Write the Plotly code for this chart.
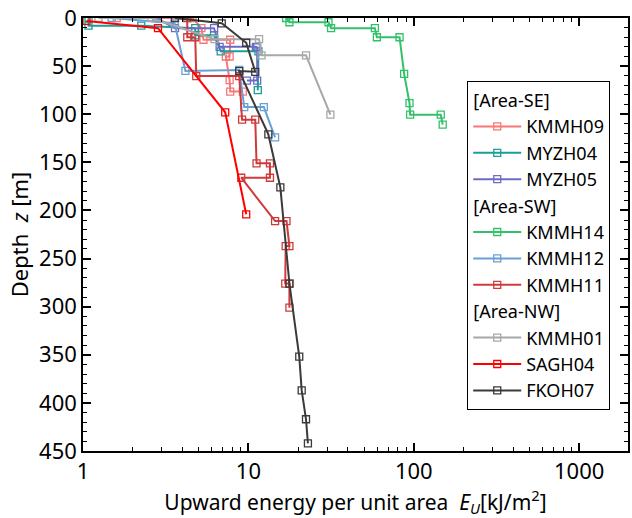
import plotly.graph_objects as go

# ---- data (E_U [kJ/m^2], depth [m]) ----
KMMH09_E = [1.6, 4.6, 5.2, 5.35, 7.76, 7.7, 7.3, 7.7, 7.76, 9.25]
KMMH09_Z = [0, 0, 10.6, 22.6, 22.6, 40, 40, 64.5, 76.5, 76.5]

MYZH04_E = [1.08, 1.08, 2.25, 4.77, 4.77, 6.2, 6.8, 11.5, 11.4]
MYZH04_Z = [0, 8, 8, 10.6, 18, 18, 34.6, 34.6, 75]

MYZH05_E = [2.78, 3.6, 6.2, 6.7, 11.1, 11.3, 11.3, 9.8]
MYZH05_Z = [0, 10.6, 10.6, 30, 30, 30.5, 65, 65]

KMMH14_E = [16.9, 17.7, 30.5, 31.6, 58.2, 59.8, 82, 87.4, 94.2, 95, 145.5, 149.5]
KMMH14_Z = [0, 4.4, 4.4, 10.6, 10.6, 20, 20, 58, 88.5, 100.5, 100.5, 110.8]

KMMH12_E = [1.49, 3.58, 4.16, 8.8, 9.44, 12.4, 14.5]
KMMH12_Z = [0, 5.5, 55, 54, 92.6, 92.6, 124]

KMMH11_E = [4.27, 4.27, 4.77, 4.84, 8.8, 9.16, 11.0, 11.2, 13.5, 13.5, 9.05, 14.5, 17.0, 17.7, 16.8, 16.7, 17.7, 17.7]
KMMH11_Z = [0, 20, 20, 60.4, 60.4, 105.7, 105.7, 151, 151, 166, 166, 211, 211, 237, 237, 276, 276, 301]

KMMH01_E = [1.24, 2.59, 6.24, 11.6, 12.0, 22.3, 31.3]
KMMH01_Z = [0, 0, 22, 22, 38.8, 38.8, 100.5]

SAGH04_E = [1.05, 2.84, 7.24, 9.7]
SAGH04_Z = [3, 10.6, 98, 204]

FKOH07_E = [3.6, 6.9, 9.7, 11.0, 8.8, 13.2, 15.6, 17.7, 20.3, 21.0, 22.3, 22.9]
FKOH07_Z = [0, 5.5, 25.7, 55.9, 55.2, 121, 176, 276, 352, 387, 417, 442]

series = [
    ("KMMH09", KMMH09_E, KMMH09_Z, "#f87777", "SE", "[Area-SE]"),
    ("MYZH04", MYZH04_E, MYZH04_Z, "#1a9e9a", "SE", "[Area-SE]"),
    ("MYZH05", MYZH05_E, MYZH05_Z, "#6c6cc8", "SE", "[Area-SE]"),
    ("KMMH14", KMMH14_E, KMMH14_Z, "#33c06a", "SW", "[Area-SW]"),
    ("KMMH12", KMMH12_E, KMMH12_Z, "#6a9fd6", "SW", "[Area-SW]"),
    ("KMMH11", KMMH11_E, KMMH11_Z, "#d03a3a", "SW", "[Area-SW]"),
    ("KMMH01", KMMH01_E, KMMH01_Z, "#a8a8a8", "NW", "[Area-NW]"),
    ("SAGH04", SAGH04_E, SAGH04_Z, "#ff0000", "NW", "[Area-NW]"),
    ("FKOH07", FKOH07_E, FKOH07_Z, "#3a3a3a", "NW", "[Area-NW]"),
]

FONT = "Noto Sans"
fig = go.Figure()
for name, e, z, col, grp, title in series:
    fig.add_trace(go.Scatter(
        x=e, y=z, mode="lines+markers", name=name,
        line=dict(color=col, width=2),
        marker=dict(symbol="square-open", size=7, color=col, line=dict(width=1.3)),
        legendgroup=grp, legendgrouptitle=dict(text=title, font=dict(size=18, family=FONT, color="black")),
    ))

axis_common = dict(
    showline=True, linecolor="black", linewidth=1.5, mirror="ticks",
    ticks="inside", ticklen=8, tickwidth=1.5, tickcolor="black",
    showgrid=False, zeroline=False, ticklabeloverflow="allow",
    tickfont=dict(size=22, family=FONT, color="black"),
)

fig.update_xaxes(type="log", range=[0, 3.295], dtick=1,
                 minor=dict(ticks="inside", ticklen=4, tickwidth=1.2, tickcolor="black", dtick="D1", showgrid=False),
                 title=dict(text="Upward energy per unit area  <i>E<sub>U</sub></i>[kJ/m<sup>2</sup>]",
                            font=dict(size=21, family=FONT, color="black"), standoff=4),
                 **axis_common)
fig.update_yaxes(range=[450, 0], tickvals=[0, 50, 100, 150, 200, 250, 300, 350, 400, 450],
                 minor=dict(ticks="inside", ticklen=4, tickwidth=1.2, tickcolor="black", dtick=10, showgrid=False),
                 title=dict(text="Depth  <i>z</i> [m]", font=dict(size=22, family=FONT, color="black"), standoff=4),
                 **axis_common)

fig.update_layout(
    width=632, height=518,
    margin=dict(l=83, r=2, t=14, b=67),
    plot_bgcolor="white", paper_bgcolor="white",
    font=dict(family=FONT, color="black"),
    legend=dict(x=0.705, y=0.855, xanchor="left", yanchor="top",
                bordercolor="black", borderwidth=1, bgcolor="white",
                font=dict(size=18, family=FONT, color="black"),
                tracegroupgap=0, traceorder="grouped", itemwidth=48),
    showlegend=True,
)

fig.write_html("out.html")
